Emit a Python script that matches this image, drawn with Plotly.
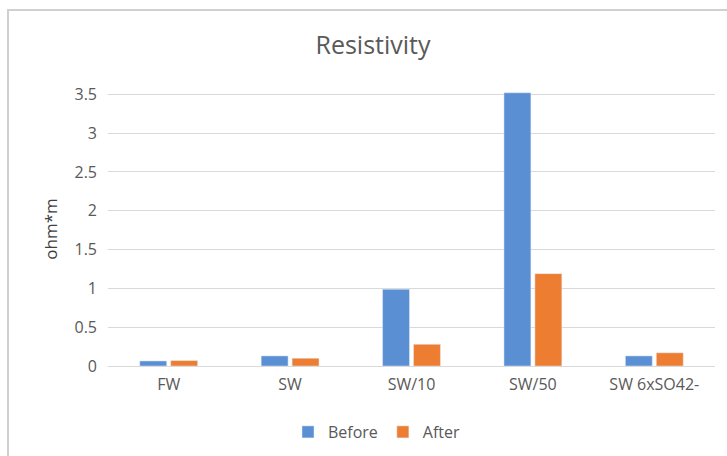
import plotly.graph_objects as go

categories = ["FW", "SW", "SW/10", "SW/50", "SW 6xSO42-"]
before = [0.065, 0.13, 0.99, 3.52, 0.13]
after = [0.07, 0.10, 0.28, 1.19, 0.17]

BLUE = "#5b8fd4"
ORANGE = "#ed7d31"
TEXT = "#595959"
GRID = "#d9d9d9"
FONT = "Open Sans"

fig = go.Figure()
fig.add_trace(go.Bar(name="Before", x=categories, y=before, marker_color=BLUE,
                     cliponaxis=False))
fig.add_trace(go.Bar(name="After", x=categories, y=after, marker_color=ORANGE,
                     cliponaxis=False))

plot_left, plot_right, plot_top, plot_bottom = 108, 715, 92, 366
W, H = 727, 456
pw = plot_right - plot_left
ph = plot_bottom - plot_top

def px_x(x):
    return (x - plot_left) / pw

def px_y(y):
    return (plot_bottom - y) / ph

fig.update_layout(
    width=W, height=H,
    margin=dict(l=plot_left, r=W - plot_right, t=plot_top, b=H - plot_bottom,
                autoexpand=False),
    paper_bgcolor="white", plot_bgcolor="white",
    barmode="group", bargap=0.49, bargroupgap=0.13,
    font=dict(family=FONT, color=TEXT, size=16),
    title=dict(text="Resistivity", x=373 / W, xanchor="center", xref="container",
               y=1 - 45 / H, yanchor="middle",
               font=dict(family=FONT, size=25, color=TEXT)),
    xaxis=dict(showgrid=False, showline=True, linecolor=GRID, linewidth=1,
               ticks="", ticklabelstandoff=4,
               tickfont=dict(size=16, color=TEXT)),
    yaxis=dict(range=[0, 3.53], tickvals=[0, 0.5, 1, 1.5, 2, 2.5, 3, 3.5],
               ticktext=["0", "0.5", "1", "1.5", "2", "2.5", "3", "3.5"],
               showgrid=True, gridcolor=GRID, gridwidth=1, zeroline=False,
               ticks="", ticklabelstandoff=10,
               tickfont=dict(size=16, color=TEXT),
               title=dict(text="ohm*m", standoff=12,
                          font=dict(size=17, color="#404040"))),
    legend=dict(orientation="h", x=px_x(377), xanchor="center",
                y=px_y(432), yanchor="middle",
                font=dict(size=16, color=TEXT), itemwidth=30,
                traceorder="normal"),
    shapes=[dict(type="rect", xref="paper", yref="paper",
                 x0=px_x(8), x1=px_x(735), y0=px_y(470), y1=px_y(10),
                 line=dict(color="#d0d0d0", width=2), layer="below")],
)

fig.write_html("out.html")
